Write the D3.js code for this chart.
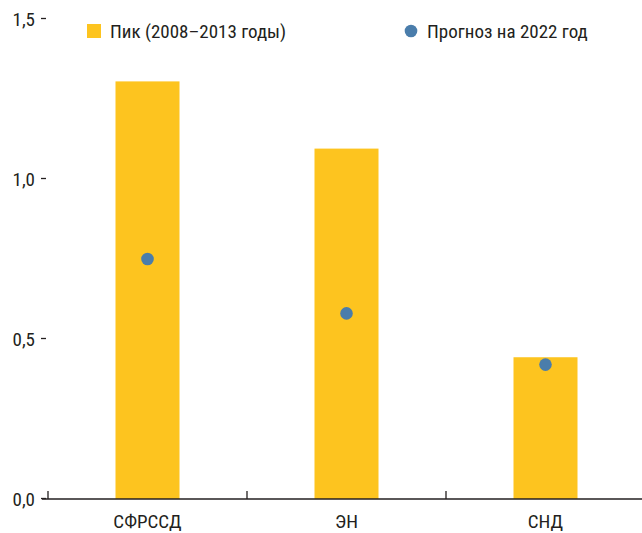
<!DOCTYPE html>
<html><head><meta charset="utf-8">
<script src="https://cdn.jsdelivr.net/npm/d3@7"></script>
<style>
body{margin:0;background:#fff}
text{font-family:"Liberation Sans Narrow","Arial Narrow","Roboto Condensed","Liberation Sans",Arial,sans-serif;fill:#231f20}
</style></head><body>
<svg id="c" width="642" height="533"></svg>
<script>
const categories = ["СФРССД", "ЭН", "СНД"];
const peakValues = [1.305, 1.095, 0.443];
const forecastValues = [0.75, 0.58, 0.42];
const yTicks = [0, 0.5, 1.0, 1.5];
const yTickLabels = ["0,0", "0,5", "1,0", "1,5"];
const legendLabels = ["Пик (2008–2013 годы)", "Прогноз на 2022 год"];

const svg = d3.select("#c");
const x = d3.scaleBand().domain(categories).range([48, 645]).paddingInner(0).paddingOuter(0);
const y = d3.scaleLinear().domain([0, 1.5]).range([499, 19]);
const barW = 64;
const yellow = "#fdc41f", blue = "#4a7dab";
const fs = 19;

// bars
svg.selectAll("rect.bar").data(categories).join("rect")
  .attr("x", d => x(d) + x.bandwidth()/2 - barW/2)
  .attr("width", barW)
  .attr("y", (d,i) => y(peakValues[i]))
  .attr("height", (d,i) => y(0) - y(peakValues[i]))
  .attr("fill", yellow);

// dots
svg.selectAll("circle.dot").data(categories).join("circle")
  .attr("cx", d => x(d) + x.bandwidth()/2)
  .attr("cy", (d,i) => y(forecastValues[i]))
  .attr("r", 6.3)
  .attr("fill", blue);

// x axis line
svg.append("line").attr("x1", 42).attr("x2", 642).attr("y1", y(0)).attr("y2", y(0))
  .attr("stroke", "#231f20").attr("stroke-width", 1.6);
// x ticks at band edges
const edges = categories.map(c => x(c));
svg.selectAll("line.xt").data(edges).join("line")
  .attr("x1", d => d).attr("x2", d => d)
  .attr("y1", y(0)).attr("y2", y(0) - 8)
  .attr("stroke", "#231f20").attr("stroke-width", 1.3);
// x labels
svg.selectAll("text.xl").data(categories).join("text")
  .attr("x", d => x(d) + x.bandwidth()/2)
  .attr("y", 528)
  .attr("text-anchor", "middle")
  .attr("font-size", fs)
  .text(d => d);

// y ticks
svg.selectAll("line.yt").data(yTicks).join("line")
  .attr("x1", 41).attr("x2", 46)
  .attr("y1", d => y(d) - 0.5).attr("y2", d => y(d) - 0.5)
  .attr("stroke", "#231f20").attr("stroke-width", 1.3);
svg.selectAll("text.yl").data(yTicks).join("text")
  .attr("x", 35)
  .attr("y", d => y(d))
  .attr("dy", "0.36em")
  .attr("text-anchor", "end")
  .attr("font-size", fs)
  .text((d,i) => yTickLabels[i]);

// legend
svg.append("rect").attr("x", 87).attr("y", 24).attr("width", 14).attr("height", 14).attr("fill", yellow);
svg.append("text").attr("x", 110).attr("y", 31).attr("dy", "0.36em").attr("font-size", fs).text(legendLabels[0]);
svg.append("circle").attr("cx", 411).attr("cy", 31).attr("r", 6.3).attr("fill", blue);
svg.append("text").attr("x", 427).attr("y", 31).attr("dy", "0.36em").attr("font-size", fs).text(legendLabels[1]);
</script>
</body></html>
